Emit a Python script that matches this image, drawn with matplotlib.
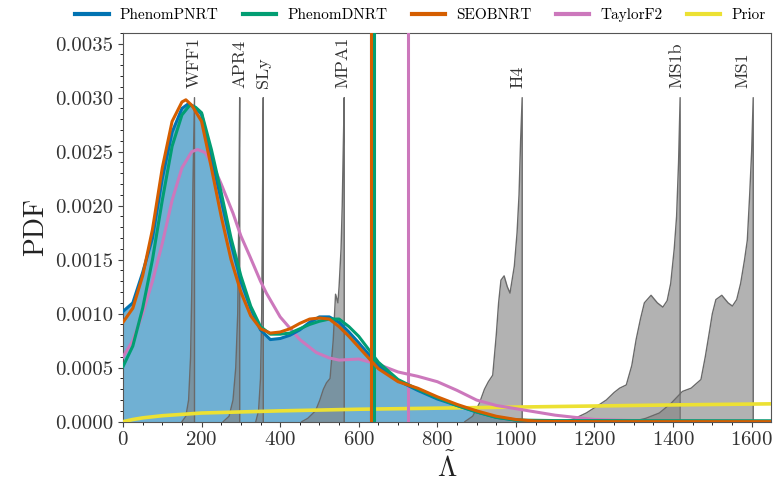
import matplotlib
matplotlib.use("Agg")
import matplotlib.pyplot as plt
from matplotlib.ticker import MultipleLocator, FormatStrFormatter

plt.rcParams["font.family"] = "cmr10"
plt.rcParams["mathtext.fontset"] = "cm"
plt.rcParams["axes.formatter.use_mathtext"] = True
plt.rcParams["axes.unicode_minus"] = False

# posterior PDFs of the tidal deformability for each waveform model
lam_pnrt = [0, 25, 50, 75, 100, 125, 150, 165, 180, 200, 225, 250, 275, 300, 325,
            350, 375, 400, 425, 450, 475, 500, 525, 550, 575, 600, 650, 700, 750,
            800, 850, 900, 950, 1000, 1050, 1100, 1200, 1650]
pdf_pnrt = [0.00102, 0.00110, 0.00138, 0.00170, 0.00225, 0.00268, 0.00290, 0.00294,
            0.00292, 0.00285, 0.00245, 0.00205, 0.00165, 0.00130, 0.00105, 0.00085,
            0.00076, 0.00077, 0.00080, 0.00085, 0.00092, 0.00097, 0.00097, 0.00092,
            0.00083, 0.00073, 0.00052, 0.00038, 0.00029, 0.00021, 0.00015, 0.00009,
            0.00004, 0.000015, 0.000005, 0.000002, 0.0, 0.0]

lam_dnrt = [0, 25, 50, 75, 100, 125, 150, 170, 185, 200, 225, 250, 275, 300, 325,
            350, 375, 400, 425, 450, 475, 500, 525, 550, 575, 600, 650, 700, 750,
            800, 850, 900, 950, 1000, 1100, 1650]
pdf_dnrt = [0.00051, 0.00070, 0.00105, 0.00150, 0.00205, 0.00255, 0.00284, 0.00293,
            0.00291, 0.00286, 0.00252, 0.00212, 0.00170, 0.00135, 0.00107, 0.00088,
            0.00081, 0.00081, 0.00082, 0.00086, 0.00090, 0.00093, 0.00095, 0.00095,
            0.00088, 0.00079, 0.00055, 0.00039, 0.00030, 0.00022, 0.00015, 0.00009,
            0.00004, 0.000015, 0.00001, 0.000008]

lam_seob = [0, 25, 50, 75, 100, 125, 150, 160, 175, 200, 225, 250, 275, 300, 325,
            350, 375, 400, 425, 450, 475, 500, 525, 550, 575, 600, 650, 700, 750,
            800, 850, 900, 950, 1000, 1050, 1100, 1200, 1650]
pdf_seob = [0.00092, 0.00105, 0.00135, 0.00178, 0.00235, 0.00278, 0.00296, 0.00298,
            0.00293, 0.00278, 0.00235, 0.00190, 0.00150, 0.00120, 0.00098, 0.00086,
            0.00082, 0.00083, 0.00086, 0.00091, 0.00095, 0.00096, 0.00095, 0.00088,
            0.00079, 0.00069, 0.00049, 0.00037, 0.00031, 0.00023, 0.00016, 0.00010,
            0.00005, 0.00002, 0.000005, 0.000002, 0.0, 0.0]

lam_tf2 = [0, 25, 50, 75, 100, 125, 150, 175, 190, 210, 238, 250, 280, 300, 323,
           350, 365, 400, 450, 492, 525, 550, 600, 650, 700, 750, 800, 850, 900,
           950, 1000, 1050, 1100, 1150, 1200, 1300, 1400, 1650]
pdf_tf2 = [0.00060, 0.00075, 0.00100, 0.00130, 0.00165, 0.00205, 0.00235, 0.00250,
           0.00252, 0.00249, 0.00230, 0.00220, 0.00193, 0.00172, 0.00153, 0.00130,
           0.00119, 0.00097, 0.00076, 0.00064, 0.00059, 0.00057, 0.00058, 0.00053,
           0.00046, 0.00042, 0.00037, 0.00029, 0.00020, 0.00015, 0.00012, 0.00009,
           0.00006, 0.00004, 0.00002, 0.00001, 0.000005, 0.000003]

lam_prior = [0, 25, 50, 100, 200, 300, 400, 600, 800, 1000, 1200, 1400, 1650]
pdf_prior = [0.0, 0.00002, 0.000035, 0.000055, 0.00008, 0.00009, 0.0001, 0.000115,
             0.000125, 0.000135, 0.000145, 0.000155, 0.000165]

# 90% upper bounds
upper_pnrt, upper_dnrt, upper_seob, upper_tf2 = 630, 639, 630, 725

# equation-of-state predictions (scaled)
eos_names = ["WFF1", "APR4", "SLy", "MPA1", "H4", "MS1b", "MS1"]
eos_lam = [
    [150, 160, 167, 172, 175, 178, 182, 182],
    [255, 270, 280, 287, 292, 295, 297, 297],
    [338, 345, 350, 353, 355, 357, 357],
    [455, 470, 490, 501, 510, 518, 527, 535, 541, 547, 550, 555, 558, 561, 563, 563],
    [870, 890, 907, 920, 930, 941, 950, 956, 962, 970, 978, 985, 996, 1003, 1008,
     1012, 1016, 1016],
    [1125, 1150, 1179, 1205, 1230, 1250, 1264, 1281, 1295, 1306, 1317, 1327, 1344,
     1360, 1374, 1385, 1394, 1403, 1409, 1414, 1418, 1418],
    [1295, 1330, 1365, 1395, 1424, 1446, 1471, 1482, 1492, 1500, 1509, 1524, 1540,
     1551, 1562, 1572, 1582, 1589, 1595, 1600, 1604, 1604],
]
eos_pdf = [
    [0, 0.00005, 0.0002, 0.0006, 0.0012, 0.0022, 0.003, 0],
    [0, 0.00005, 0.0002, 0.0005, 0.001, 0.002, 0.003, 0],
    [0, 0.0001, 0.0004, 0.001, 0.002, 0.003, 0],
    [0, 0.00003, 0.0001, 0.0002, 0.0003, 0.00036, 0.0004, 0.00075, 0.00118, 0.0011,
     0.00125, 0.0016, 0.002, 0.0026, 0.003, 0],
    [0, 0.00005, 0.00017, 0.0003, 0.00037, 0.00043, 0.0008, 0.0011, 0.00131, 0.00135,
     0.00125, 0.00119, 0.00144, 0.00175, 0.0021, 0.0026, 0.003, 0],
    [0, 0.00003, 0.00008, 0.00014, 0.0002, 0.00027, 0.00031, 0.00034, 0.00052,
     0.00076, 0.00095, 0.0011, 0.00117, 0.0011, 0.00106, 0.00112, 0.00128, 0.0016,
     0.0019, 0.0024, 0.003, 0],
    [0, 0.00003, 0.00008, 0.00017, 0.00028, 0.00031, 0.00039, 0.0006, 0.00082, 0.001,
     0.00113, 0.00117, 0.0011, 0.00107, 0.00113, 0.00128, 0.0015, 0.00168, 0.0021,
     0.0025, 0.003, 0],
]
label_shift = [0, 0, 0, -5, -12, -10, -28]

c_blue, c_green, c_orange = "#0173b2", "#029e73", "#d55e00"
c_pink, c_yellow = "#cc78bc", "#ece133"

fig = plt.figure(figsize=(7.75, 4.83), dpi=100)
ax = fig.add_axes([0.1587, 0.127, 0.8355, 0.805])

ax.fill_between(lam_pnrt, pdf_pnrt, color=c_blue, alpha=0.56, lw=0, zorder=1)

for name, xs, ys, dx in zip(eos_names, eos_lam, eos_pdf, label_shift):
    ax.fill_between(xs, ys, color="#808080", alpha=0.6, lw=0, zorder=2)
    ax.plot(xs, ys, color="#6a6a6a", lw=1.0, zorder=2)
    ax.text(xs[-1] + dx, 0.00309, name, rotation=90, ha="center", va="bottom",
            fontsize=13, color="#333333")

ax.plot(lam_prior, pdf_prior, color=c_yellow, lw=2.6, label="Prior", zorder=3)
ax.plot(lam_tf2, pdf_tf2, color=c_pink, lw=2.2, label="TaylorF2", zorder=4)
ax.plot(lam_pnrt, pdf_pnrt, color=c_blue, lw=2.2, label="PhenomPNRT", zorder=5)
ax.plot(lam_dnrt, pdf_dnrt, color=c_green, lw=2.2, label="PhenomDNRT", zorder=5)
ax.plot(lam_seob, pdf_seob, color=c_orange, lw=2.2, label="SEOBNRT", zorder=6)

ax.axvline(upper_pnrt, color=c_blue, lw=2.2, zorder=5)
ax.axvline(upper_dnrt, color=c_green, lw=2.2, zorder=5)
ax.axvline(upper_seob, color=c_orange, lw=2.2, zorder=6)
ax.axvline(upper_tf2, color=c_pink, lw=2.2, zorder=4)

ax.set_xlim(0, 1648)
ax.set_ylim(0, 0.0036)
ax.xaxis.set_major_locator(MultipleLocator(200))
ax.xaxis.set_minor_locator(MultipleLocator(50))
ax.yaxis.set_major_locator(MultipleLocator(0.0005))
ax.yaxis.set_minor_locator(MultipleLocator(0.0001))
ax.yaxis.set_major_formatter(FormatStrFormatter("%.4f"))
ax.tick_params(labelsize=15, colors="#444444", labelcolor="#333333")
for s in ax.spines.values():
    s.set_color("#555555")

ax.set_xlabel(r"$\tilde{\Lambda}$", fontsize=20, color="#222222", labelpad=2)
ax.set_ylabel("PDF", fontsize=20, color="#222222")

handles, labels = ax.get_legend_handles_labels()
order = ["PhenomPNRT", "PhenomDNRT", "SEOBNRT", "TaylorF2", "Prior"]
hmap = dict(zip(labels, handles))
leg = ax.legend([hmap[k] for k in order], order, loc="center",
                bbox_to_anchor=(0.459, 1.045), ncol=5, frameon=False, fontsize=11,
                handlelength=2.2, handletextpad=0.7, columnspacing=1.6)
for line in leg.get_lines():
    line.set_linewidth(3)

fig.savefig("out.png", dpi=100)
